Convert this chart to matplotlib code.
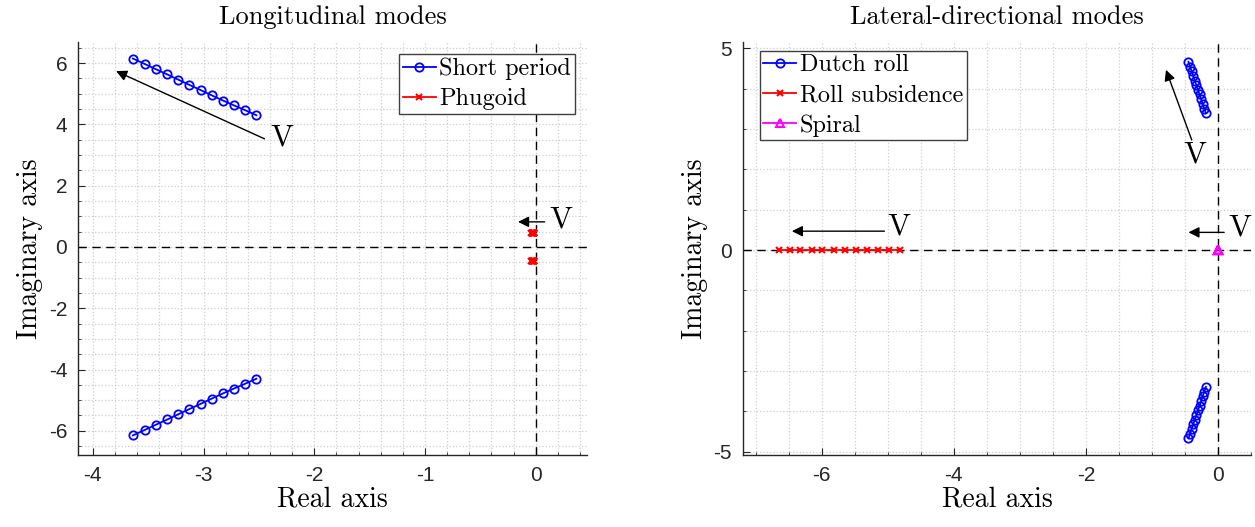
import numpy as np
import matplotlib
matplotlib.use("Agg")
import matplotlib.pyplot as plt
from matplotlib.ticker import MultipleLocator

# ── data ──────────────────────────────────────────────────────────────────────
sp_re = [-3.638, -3.530, -3.430, -3.327, -3.228, -3.128, -3.026, -2.927, -2.825, -2.725, -2.622, -2.523]
sp_im = [6.15, 5.97, 5.80, 5.63, 5.46, 5.29, 5.12, 4.95, 4.78, 4.62, 4.46, 4.30]

ph_re = [-0.040, -0.037, -0.035, -0.032, -0.030, -0.027, -0.025, -0.022, -0.020, -0.017, -0.015, -0.012]
ph_im = [0.47, 0.47, 0.47, 0.47, 0.46, 0.46, 0.46, 0.46, 0.46, 0.45, 0.45, 0.45]

dr_re = [-0.450, -0.426, -0.402, -0.378, -0.354, -0.330, -0.306, -0.282, -0.258, -0.234, -0.210, -0.186]
dr_im = [4.67, 4.55, 4.44, 4.32, 4.20, 4.09, 3.97, 3.86, 3.74, 3.62, 3.51, 3.39]

rs_re = [-6.65, -6.48, -6.32, -6.15, -5.99, -5.82, -5.65, -5.48, -5.32, -5.15, -4.98, -4.82]
rs_im = [0.0] * 12

spi_re = [0.004, 0.003, 0.003, 0.002, 0.002, 0.001, 0.001, 0.0, 0.0, -0.001, -0.001, -0.002]
spi_im = [0.0] * 12

# arrows: (head, tail, text position)
lon_arrows = [((-3.79, 5.74), (-2.45, 3.53), (-2.40, 3.58)),
              ((-0.16, 0.82), (0.08, 0.82), (0.12, 0.88))]
lat_arrows = [((-0.79, 4.47), (-0.40, 2.73), (-0.52, 2.36)),
              ((-6.45, 0.47), (-5.05, 0.47), (-5.00, 0.57)),
              ((-0.45, 0.44), (0.09, 0.44), (0.16, 0.55))]

SERIF = "cmr10"
SANS = ["Liberation Sans", "DejaVu Sans"]
TICK_C = "#262626"
GRID_C = "#cfcfcf"

plt.rcParams.update({
    "font.family": SANS,
    "axes.unicode_minus": False,
    "axes.formatter.use_mathtext": False,
})

fig = plt.figure(figsize=(12.55, 5.27), dpi=100)
ax1 = fig.add_axes([0.0625, 0.1366, 0.405, 0.7837])
ax2 = fig.add_axes([0.592, 0.1366, 0.405, 0.7837])


def style_axes(ax, xlim, ylim, xmaj, xmin, ymaj, ymin):
    ax.set_xlim(*xlim)
    ax.set_ylim(*ylim)
    ax.xaxis.set_major_locator(MultipleLocator(xmaj))
    ax.xaxis.set_minor_locator(MultipleLocator(xmin))
    ax.yaxis.set_major_locator(MultipleLocator(ymaj))
    ax.yaxis.set_minor_locator(MultipleLocator(ymin))
    ax.grid(which="both", linestyle=":", color=GRID_C, linewidth=0.9)
    ax.set_axisbelow(True)
    for s in ("top", "right"):
        ax.spines[s].set_visible(False)
    for s in ("left", "bottom"):
        ax.spines[s].set_color(TICK_C)
        ax.spines[s].set_linewidth(1.0)
    ax.tick_params(which="major", direction="in", length=5, width=0.8,
                   colors=TICK_C, labelsize=15, pad=8)
    ax.tick_params(which="minor", direction="in", length=2.5, width=0.6, colors=TICK_C)
    ax.axhline(0, color="k", linestyle=(0, (6, 4)), linewidth=1.0, zorder=1)
    ax.axvline(0, color="k", linestyle=(0, (6, 4)), linewidth=1.0, zorder=1)
    ax.set_xlabel("Real axis", fontfamily=SERIF, fontsize=20, labelpad=1)
    ax.set_ylabel("Imaginary axis", fontfamily=SERIF, fontsize=20, labelpad=4)


def draw_arrows(ax, arrows):
    for head, tail, txt in arrows:
        ax.annotate("", xy=head, xytext=tail,
                    arrowprops=dict(arrowstyle="-|>", color="k", lw=1.0,
                                    shrinkA=0, shrinkB=0, mutation_scale=16))
        ax.text(txt[0], txt[1], "V", fontfamily=SERIF, fontsize=22,
                ha="left", va="center")


def add_legend(ax, **kw):
    leg = ax.legend(prop={"family": SERIF, "size": 17.5}, fancybox=False, framealpha=1,
                    edgecolor="#404040", borderpad=0.15, labelspacing=0.32,
                    handlelength=1.35, handletextpad=0.15, **kw)
    leg.get_frame().set_linewidth(1.0)
    return leg


# ── Longitudinal ──────────────────────────────────────────────────────────────
style_axes(ax1, (-4.13, 0.46), (-6.79, 6.69), 1, 0.2, 2, 0.5)
ax1.plot(sp_re, sp_im, "-o", color="#0000ff", mfc="none", ms=6, lw=1.3, mew=1.3,
         label="Short period", zorder=3)
ax1.plot(sp_re, [-v for v in sp_im], "-o", color="#0000ff", mfc="none", ms=6, lw=1.3,
         mew=1.3, zorder=3)
ax1.plot(ph_re, ph_im, "-x", color="#ff0000", ms=4, lw=1.3, mew=1.5, label="Phugoid", zorder=3)
ax1.plot(ph_re, [-v for v in ph_im], "-x", color="#ff0000", ms=4, lw=1.3, mew=1.5, zorder=3)
draw_arrows(ax1, lon_arrows)
ax1.set_title("Longitudinal modes", fontfamily=SERIF, fontsize=19, pad=13)
add_legend(ax1, loc="upper right", borderaxespad=0.5)

# ── Lateral-directional ──────────────────────────────────────────────────────
style_axes(ax2, (-7.19, 0.5), (-5.08, 5.16), 2, 0.5, 5, 1)
ax2.plot(dr_re, dr_im, "-o", color="#0000ff", mfc="none", ms=6, lw=1.3, mew=1.3,
         label="Dutch roll", zorder=3)
ax2.plot(dr_re, [-v for v in dr_im], "-o", color="#0000ff", mfc="none", ms=6, lw=1.3,
         mew=1.3, zorder=3)
ax2.plot(rs_re, rs_im, "-x", color="#ff0000", ms=4, lw=1.3, mew=1.5,
         label="Roll subsidence", zorder=3)
ax2.plot(spi_re, spi_im, "-^", color="#ff00ff", mfc="none", ms=6, lw=1.3, mew=1.5,
         label="Spiral", zorder=3)
draw_arrows(ax2, lat_arrows)
ax2.set_title("Lateral-directional modes", fontfamily=SERIF, fontsize=19, pad=13)
add_legend(ax2, loc="upper left", bbox_to_anchor=(0.033, 0.979), borderaxespad=0)

fig.savefig("out.png", dpi=100)
